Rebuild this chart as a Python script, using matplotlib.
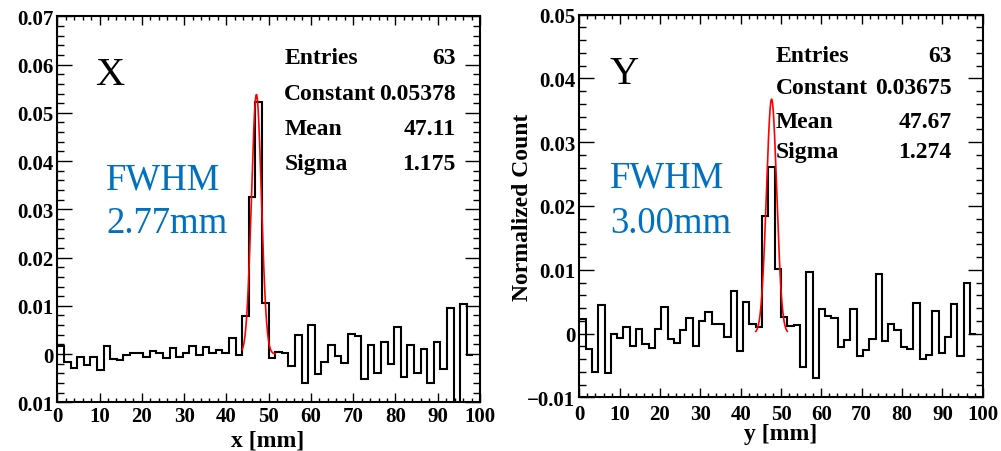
import numpy as np
import matplotlib
matplotlib.use("Agg")
import matplotlib.pyplot as plt
from matplotlib.ticker import MultipleLocator

plt.rcParams['font.family'] = ['Liberation Serif', 'DejaVu Serif']
plt.rcParams['axes.unicode_minus'] = True

# ---- data -------------------------------------------------------------
bin_width = 100 / 64

x_counts = [
    0.0017, -0.0017, -0.0028, -0.0006, -0.0023, -0.0006, -0.0033, 0.0017,
    -0.0010, -0.0012, -0.0003, 0.0002, 0.0003, -0.0007, 0.0006, 0.0003,
    -0.0008, 0.0013, -0.0006, 0.0003, 0.0017, -0.0002, 0.0014, 0.0003,
    0.0009, 0.0002, 0.0034, -0.0001, 0.0078, 0.0326, 0.0523, 0.0106,
    -0.0009, 0.0005, 0.0002, -0.0025, 0.0039, -0.0061, 0.0061, -0.0042,
    -0.0017, 0.0018, -0.0005, -0.0019, 0.0042, 0.0037, -0.0051, 0.0018,
    -0.0039, 0.0025, -0.0021, 0.0057, -0.0047, 0.0018, -0.0040, 0.0011,
    -0.0059, 0.0025, -0.0032, 0.0096, -0.0120, 0.0104, -0.0002,
]

y_counts = [
    0.0023, -0.0025, -0.0060, 0.0044, -0.0062, -0.0001, -0.0007, 0.0011,
    -0.0020, 0.0007, -0.0016, -0.0022, 0.0007, 0.0041, -0.0009, -0.0015,
    0.0005, 0.0024, -0.0019, 0.0019, 0.0033, 0.0015, 0.0015, -0.0005,
    0.0066, -0.0028, 0.0050, 0.0015, 0.0011, 0.0184, 0.0261, 0.0101,
    0.0026, 0.0012, 0.0013, -0.0053, 0.0097, -0.0070, 0.0038, 0.0027,
    0.0025, -0.0021, -0.0010, 0.0038, -0.0036, -0.0026, -0.0009, 0.0093,
    -0.0012, 0.0015, 0.0006, -0.0021, -0.0024, 0.0048, -0.0040, -0.0033,
    0.0036, -0.0031, -0.0006, 0.0047, -0.0035, 0.0080, -0.0001,
]

# Gaussian fit parameters: Constant, Mean, Sigma
x_fit = (0.05378, 47.11, 1.175)
y_fit = (0.03675, 47.67, 1.274)
fit_range = (43.75, 51.5625)

x_entries = 63
y_entries = 63
x_fwhm = "2.77mm"
y_fwhm = "3.00mm"

x_ticks = [0, 10, 20, 30, 40, 50, 60, 70, 80, 90, 100]
x_tick_labels = ["0", "10", "20", "30", "40", "50", "60", "70", "80", "90", "100"]
left_yticks = [-0.01, 0.0, 0.01, 0.02, 0.03, 0.04, 0.05, 0.06, 0.07]
left_ytick_labels = ["0.01", "0", "0.01", "0.02", "0.03", "0.04", "0.05", "0.06", "0.07"]
right_yticks = [-0.01, 0.0, 0.01, 0.02, 0.03, 0.04, 0.05]
right_ytick_labels = ["\u22120.01", "0", "0.01", "0.02", "0.03", "0.04", "0.05"]

# ---- figure -----------------------------------------------------------
W, H = 1001, 452
fig = plt.figure(figsize=(W / 100, H / 100), dpi=100)


def fx(px):
    return px / W


def fy(py):
    return 1 - py / H


def axes_box(left, top, right, bottom):
    return [fx(left), fy(bottom), (right - left) / W, (bottom - top) / H]


axL = fig.add_axes(axes_box(57.3, 17.3, 480.0, 403.3))
axR = fig.add_axes(axes_box(579.3, 15.7, 982.7, 398.3))

BLUE = "#0070C0"
TICKFONT = dict(fontsize=15, fontweight="bold")


def gaussian(x, c, m, s):
    return c * np.exp(-0.5 * ((x - m) / s) ** 2)


def draw_panel(ax, counts, fit, ylim, yticks, ylabels, xpad):
    edges = np.arange(len(counts) + 1) * bin_width
    ax.stairs(counts, edges, color="black", linewidth=1.5, baseline=None)
    xs = np.linspace(fit_range[0], fit_range[1], 300)
    ax.plot(xs, gaussian(xs, *fit), color="red", linewidth=1.2)

    ax.set_xlim(0, 100)
    ax.set_ylim(*ylim)
    ax.set_xticks(x_ticks)
    ax.set_xticklabels(x_tick_labels, **TICKFONT)
    ax.set_yticks(yticks)
    ax.set_yticklabels(ylabels, **TICKFONT)
    ax.xaxis.set_minor_locator(MultipleLocator(2))
    ax.yaxis.set_minor_locator(MultipleLocator(0.002))

    ax.tick_params(which="both", direction="in", top=True, right=True,
                   width=1.0, color="black")
    ax.tick_params(axis="y", which="major", length=10.5, pad=2.8)
    ax.tick_params(axis="y", which="minor", length=5.3)
    ax.tick_params(axis="x", which="major", length=6.5, pad=xpad)
    ax.tick_params(axis="x", which="minor", length=3.0)
    for sp in ax.spines.values():
        sp.set_linewidth(1.5)
        sp.set_color("black")


draw_panel(axL, x_counts, x_fit, (-0.01, 0.07), left_yticks, left_ytick_labels, 2.4)
draw_panel(axR, y_counts, y_fit, (-0.01, 0.05), right_yticks, right_ytick_labels, 4.8)

# axis titles
fig.text(fx(268), fy(447), "x [mm]", ha="center", va="baseline",
         fontsize=17, fontweight="bold")
fig.text(fx(781), fy(440), "y [mm]", ha="center", va="baseline",
         fontsize=17, fontweight="bold")
fig.text(fx(528), fy(207), "Normalized Count", rotation=90,
         rotation_mode="anchor", ha="center", va="baseline",
         fontsize=17, fontweight="bold")

# panel tags and FWHM annotations
fig.text(fx(95), fy(85), "X", ha="left", va="baseline", fontsize=29)
fig.text(fx(610), fy(84), "Y", ha="left", va="baseline", fontsize=29)
fig.text(fx(106), fy(189), "FWHM", ha="left", va="baseline", fontsize=26.5, color=BLUE)
fig.text(fx(106), fy(233), x_fwhm, ha="left", va="baseline", fontsize=26.5, color=BLUE)
fig.text(fx(610), fy(188), "FWHM", ha="left", va="baseline", fontsize=26.5, color=BLUE)
fig.text(fx(610), fy(233), y_fwhm, ha="left", va="baseline", fontsize=26.5, color=BLUE)


def stats_box(lx, rx, baselines, entries, fit):
    rows = [
        ("Entries", f"{entries}"),
        ("Constant", f"{fit[0]:.5f}"),
        ("Mean", f"{fit[1]:.2f}"),
        ("Sigma", f"{fit[2]:.3f}"),
    ]
    for (name, val), base in zip(rows, baselines):
        fig.text(fx(lx), fy(base), name, ha="left", va="baseline",
                 fontsize=17, fontweight="bold")
        fig.text(fx(rx), fy(base), val, ha="right", va="baseline",
                 fontsize=17, fontweight="bold")


stats_box(284.3, 456.0, [64, 99.5, 135, 170], x_entries, x_fit)
stats_box(776.0, 951.7, [61.7, 94.3, 127.7, 157.7], y_entries, y_fit)

fig.savefig("out.png", dpi=100)
